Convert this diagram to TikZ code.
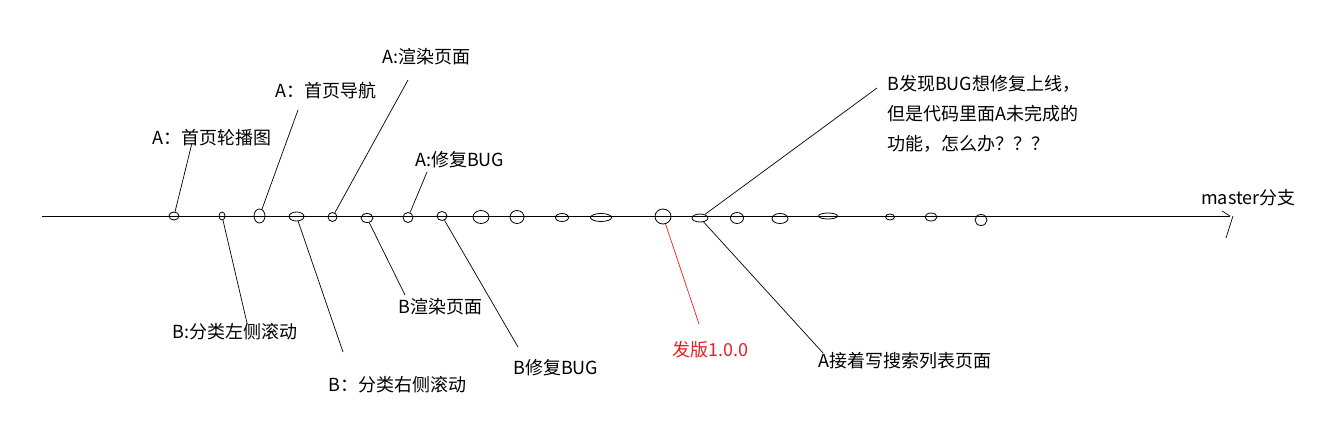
\documentclass[tikz,border=0pt]{standalone}
\usepackage{fontspec}
\setmainfont{Noto Sans CJK SC}
\usepackage{xcolor}
\usepackage{tikz}
\usetikzlibrary{shapes.geometric}
\definecolor{paintred}{RGB}{237,28,36}
\tikzstyle{commit} = [ellipse, draw = black, inner sep=0pt, line width=0.8pt]
\tikzstyle{note} = [anchor=west, inner sep=0pt, font=\fontsize{18}{30}\selectfont]
\tikzstyle{link} = [line width=0.7pt]
\tikzstyle{redlink} = [link, draw=paintred]

\begin{document}
\begin{tikzpicture}[x=1pt,y=-1pt]
        \useasboundingbox[fill=white] (0,0) rectangle (1322,433);
        \coordinate (begin) at (42,216);
        \coordinate (tip) at (1230,216);
        \draw [line width=1pt] (begin) -- (tip);
        \draw [link] ([shift={(-8,-5)}]tip) -- (tip);
        \draw [link] ([shift={(3,0)}]tip) -- ([shift={(-4,22)}]tip);

        \node[commit,minimum width=10pt,minimum height=8pt](c1) at (174,216){};
        \node[commit,minimum width=6pt,minimum height=8pt](c2) at (222,216){};
        \node[commit,minimum width=11pt,minimum height=14pt](c3) at (259.5,216){};
        \node[commit,minimum width=15pt,minimum height=9pt](c4) at (296.5,216.5){};
        \node[commit,minimum width=9pt,minimum height=9pt](c5) at (332.5,217){};
        \node[commit,minimum width=12pt,minimum height=9pt](c6) at (367,218){};
        \node[commit,minimum width=10pt,minimum height=10pt](c7) at (408,217.5){};
        \node[commit,minimum width=10pt,minimum height=9pt](c8) at (442,216){};
        \node[commit,minimum width=16pt,minimum height=13pt](c9) at (481,217){};
        \node[commit,minimum width=14pt,minimum height=13pt](c10) at (517,217){};
        \node[commit,minimum width=13pt,minimum height=8pt](c11) at (562,217.5){};
        \node[commit,minimum width=21pt,minimum height=8pt](c12) at (601,217.5){};
        \node[commit,minimum width=16pt,minimum height=15pt](c13) at (663,216.5){};
        \node[commit,minimum width=16pt,minimum height=8pt](c14) at (700,218){};
        \node[commit,minimum width=13pt,minimum height=11pt](c15) at (737,218){};
        \node[commit,minimum width=16pt,minimum height=10pt](c16) at (780,218.5){};
        \node[commit,minimum width=19pt,minimum height=6pt](c17) at (828,216){};
        \node[commit,minimum width=9pt,minimum height=6pt](c18) at (890,217){};
        \node[commit,minimum width=12pt,minimum height=8pt](c19) at (931,217){};
        \node[commit,minimum width=12pt,minimum height=11pt](c20) at (981,220){};

        \node[note](a1) at (152,138){A：首页轮播图};
        \node[note](a2) at (275,91){A：首页导航};
        \node[note](a3) at (382,57){A:渲染页面};
        \node[note](a4) at (415,160){A:修复BUG};
        \node[note,anchor=north west,align=left](b5) at (887,75){B发现BUG想修复上线，\\但是代码里面A未完成的\\功能，怎么办？？？};
        \node[note](b1) at (172,332){B:分类左侧滚动};
        \node[note](b2) at (328,385){B：分类右侧滚动};
        \node[note](b3) at (398,307){B渲染页面};
        \node[note](b4) at (513,368){B修复BUG};
        \node[note,text=paintred](rel) at (672,350){发版1.0.0};
        \node[note](a5) at (818,361){A接着写搜索列表页面};
        \node[note](master) at (1201,198){master分支};

        \coordinate (a1e) at (192,143);
        \coordinate (a2e) at (298,110);
        \coordinate (a3e) at (408,80);
        \coordinate (a4e) at (427,172);
        \coordinate (b5e) at (877,88);
        \coordinate (b1e) at (247,323);
        \coordinate (b2e) at (343,352);
        \coordinate (b3e) at (405,295);
        \coordinate (b4e) at (518,347);
        \coordinate (rele) at (699,324);
        \coordinate (a5e) at (823,353);

        \draw [link] (c1) -- (a1e);
        \draw [link] (c3) -- (a2e);
        \draw [link] (c5) -- (a3e);
        \draw [link] (c7) -- (a4e);
        \draw [link] (c14) -- (b5e);
        \draw [link] (c2) -- (b1e);
        \draw [link] (c4) -- (b2e);
        \draw [link] (c6) -- (b3e);
        \draw [link] (c8) -- (b4e);
        \draw [redlink] (c13) -- (rele);
        \draw [link] (c14) -- (a5e);
\end{tikzpicture}
\end{document}
